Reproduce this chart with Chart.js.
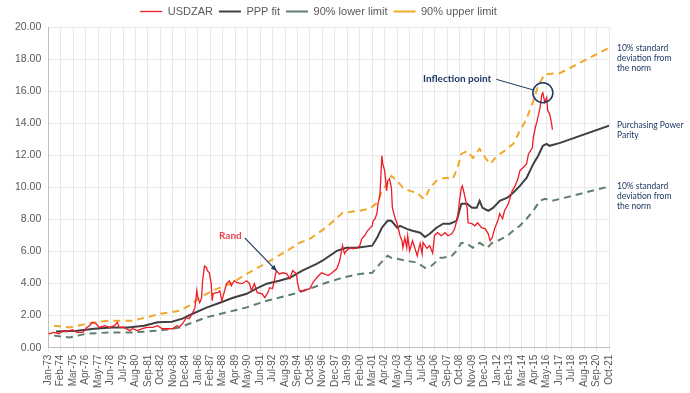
<!DOCTYPE html>
<html>
<head>
<meta charset="utf-8">
<script src="https://cdn.jsdelivr.net/npm/chart.js@4.4.0/dist/chart.umd.min.js"></script>
<style>
  body { margin: 0; background: #fff; }
</style>
</head>
<body>
<canvas id="myChart" width="690" height="393"></canvas>
<script>
// month index 0 = Jan-73, one step per month
const tickLabels = ["Jan-73","Feb-74","Mar-75","Apr-76","May-77","Jun-78","Jul-79","Aug-80","Sep-81","Oct-82",
  "Nov-83","Dec-84","Jan-86","Feb-87","Mar-88","Apr-89","May-90","Jun-91","Jul-92","Aug-93",
  "Sep-94","Oct-95","Nov-96","Dec-97","Jan-99","Feb-00","Mar-01","Apr-02","May-03","Jun-04",
  "Jul-05","Aug-06","Sep-07","Oct-08","Nov-09","Dec-10","Jan-12","Feb-13","Mar-14","Apr-15",
  "May-16","Jun-17","Jul-18","Aug-19","Sep-20","Oct-21"];

const zarMonth = [0,1,6,11,15,20,25,30,36,40,43,46,50,53,59,64,69,72,74,79,85,88,93,98,103,109,114,119,124,130,
  134,137,140,144,147,150,153,155,156,158,160,161,163,165,166,168,170,171,172,175,177,179,181,182,186,189,191,194,197,202,
  207,210,212,215,218,223,226,229,231,234,238,241,245,249,252,255,259,260,262,265,273,276,280,285,288,292,296,301,304,307,
  309,311,315,318,322,325,327,330,333,338,339,341,343,344,346,348,349,351,353,354,356,358,359,362,364,365,367,369,370,372,
  374,375,377,380,385,386,388,390,391,395,398,401,403,406,410,414,417,421,424,426,427,429,431,432,434,437,438,442,445,448,
  452,456,459,461,463,466,469,471,474,476,480,484,487,490,492,495,499,501,505,506,508,510,513,515,516,518,520,521,523,525,526];
const zarRate = [0.90,0.87,0.95,0.87,1.06,1.00,1.12,0.95,0.95,1.26,1.37,1.58,1.49,1.26,1.37,1.26,1.37,1.58,1.26,1.26,1.06,1.18,1.06,1.18,1.26,1.26,1.37,1.18,1.18,1.18,
  1.37,1.30,1.49,1.87,1.81,2.10,2.49,3.55,3.12,2.80,3.12,4.17,5.10,5.00,4.80,4.67,3.99,2.93,3.36,3.43,3.43,3.55,2.93,3.12,3.99,4.17,3.86,4.17,4.05,3.99,
  4.17,3.99,3.55,3.99,3.43,3.36,3.12,3.43,3.74,3.68,4.80,4.60,4.67,4.60,4.30,4.80,4.60,4.05,3.55,3.55,3.68,4.05,4.36,4.67,4.60,4.50,4.67,4.92,5.42,6.36,
  5.86,6.04,6.23,6.17,6.23,6.36,6.79,6.98,7.29,7.60,7.91,8.04,8.41,8.97,9.47,11.96,11.46,11.03,9.78,10.40,10.53,9.97,8.72,8.04,7.73,7.48,6.98,6.67,6.23,6.85,
  6.23,6.98,6.04,6.67,5.73,6.04,6.50,5.86,6.56,6.20,6.36,5.90,7.00,7.17,6.98,7.17,6.98,7.10,7.41,7.91,8.10,9.16,9.97,10.09,9.60,8.72,7.79,7.73,7.60,7.79,
  7.48,7.41,7.10,6.67,6.85,7.48,7.91,8.35,8.04,8.54,8.97,9.78,10.09,10.53,11.03,11.21,11.46,12.08,12.46,13.08,13.70,14.14,14.95,15.80,15.90,15.30,15.60,14.80,14.60,14.00,13.60];

const pppMonth = [8,30,48,66,83,100,114,129,140,150,165,179,192,207,217,228,241,252,265,280,286,301,311,322,338,343,348,354,358,364,
  367,374,380,388,393,398,405,412,419,426,431,437,442,447,450,453,459,464,471,479,485,492,499,506,511,516,520,523,534,585];
const pppFit = [1.00,1.06,1.18,1.26,1.26,1.37,1.58,1.62,1.81,2.10,2.50,2.80,3.10,3.36,3.68,3.99,4.17,4.36,4.80,5.23,5.42,6.04,6.23,6.23,6.36,6.85,7.48,7.91,7.91,7.48,
  7.60,7.41,7.29,7.17,6.90,7.10,7.48,7.73,7.73,7.91,8.97,8.97,8.72,8.72,9.16,8.72,8.54,8.72,9.16,9.35,9.66,10.09,10.59,11.46,11.96,12.59,12.71,12.59,12.77,13.85];

const lowMonth = [6,22,40,64,88,116,137,147,165,186,207,228,249,262,273,290,307,325,338,346,354,358,364,374,385,393,400,409,412,421,
  426,431,437,443,450,458,463,469,479,485,492,499,506,513,518,526,534,585];
const lowLimit = [0.75,0.64,0.87,0.95,0.95,1.06,1.26,1.49,1.89,2.20,2.51,2.93,3.24,3.45,3.68,4.05,4.36,4.60,4.67,5.23,5.73,5.60,5.54,5.42,5.30,4.98,5.11,5.61,5.61,5.73,
  6.04,6.54,6.48,6.23,6.54,6.23,6.54,6.67,6.98,7.29,7.60,8.04,8.54,9.16,9.28,9.16,9.28,10.05];

const upMonth = [6,22,40,61,88,116,137,147,158,171,192,207,228,249,262,273,290,307,325,335,343,348,354,358,364,370,377,385,390,393,
  398,405,409,416,422,427,431,437,443,450,456,461,468,476,485,492,499,506,511,515,518,523,534,585];
const upLimit = [1.37,1.26,1.49,1.68,1.68,2.10,2.30,2.62,3.12,3.55,4.05,4.60,5.30,6.04,6.54,6.79,7.50,8.41,8.54,8.66,9.03,9.78,10.22,10.72,10.40,9.97,9.78,9.66,9.35,9.28,
  9.97,10.40,10.53,10.59,10.53,11.21,12.08,12.27,11.84,12.40,11.84,11.46,11.96,12.27,12.71,13.52,14.27,15.39,16.32,16.76,17.07,17.07,17.13,18.70];

const navy = '#1f3864';
const pts = (xs, ys) => xs.map((m, i) => ({ x: m, y: ys[i] }));

const sideNotes = [
  { at: 18.70, lines: ['10% standard', 'deviation from', 'the norm'] },
  { at: 13.85, lines: ['Purchasing Power', 'Parity'] },
  { at: 10.05, lines: ['10% standard', 'deviation from', 'the norm'] }
];

// legend in the original sits a bit right of the canvas centre
const legendShift = {
  id: 'legendShift',
  afterLayout(chart) {
    chart.legend.left += 10;
    chart.legend.right += 10;
  }
};

const notes = {
  id: 'notes',
  afterDatasetsDraw(chart) {
    const { ctx, chartArea, scales: { x, y } } = chart;
    ctx.save();
    ctx.fillStyle = navy;
    ctx.textBaseline = 'middle';
    ctx.textAlign = 'left';
    ctx.font = '8.5px Lato';
    sideNotes.forEach(n => {
      n.lines.forEach((t, i) => ctx.fillText(t, chartArea.right + 8, y.getPixelForValue(n.at) + i * 10));
    });

    // inflection point
    const cx = x.getPixelForValue(516), cy = y.getPixelForValue(15.9), r = 10;
    ctx.strokeStyle = navy;
    ctx.lineWidth = 1.5;
    ctx.beginPath();
    ctx.arc(cx, cy, r, 0, Math.PI * 2);
    ctx.stroke();
    ctx.font = 'bold 10px Lato';
    const tx = x.getPixelForValue(391), ty = y.getPixelForValue(16.8);
    ctx.fillText('Inflection point', tx, ty);
    const sx = tx + ctx.measureText('Inflection point').width + 5, sy = ty + 1;
    const ang = Math.atan2(cy - sy, cx - sx);
    ctx.lineWidth = 1;
    ctx.beginPath();
    ctx.moveTo(sx, sy);
    ctx.lineTo(cx - Math.cos(ang) * r, cy - Math.sin(ang) * r);
    ctx.stroke();

    // Rand arrow
    ctx.fillStyle = '#e8474f';
    ctx.textAlign = 'center';
    ctx.fillText('Rand', x.getPixelForValue(190), y.getPixelForValue(6.98));
    const ax = x.getPixelForValue(205), ay = y.getPixelForValue(6.85);
    const bx = x.getPixelForValue(238), by = y.getPixelForValue(4.8);
    ctx.strokeStyle = navy;
    ctx.lineWidth = 1.2;
    ctx.beginPath();
    ctx.moveTo(ax, ay);
    ctx.lineTo(bx, by);
    ctx.stroke();
    const a = Math.atan2(by - ay, bx - ax);
    ctx.fillStyle = navy;
    ctx.beginPath();
    ctx.moveTo(bx, by);
    ctx.lineTo(bx - 6 * Math.cos(a - 0.45), by - 6 * Math.sin(a - 0.45));
    ctx.lineTo(bx - 6 * Math.cos(a + 0.45), by - 6 * Math.sin(a + 0.45));
    ctx.closePath();
    ctx.fill();
    ctx.restore();
  }
};

new Chart('myChart', {
  type: 'line',
  data: {
    datasets: [
      { label: 'USDZAR', data: pts(zarMonth, zarRate), borderColor: '#ee1c25', borderWidth: 1.3, pointStyle: 'line' },
      { label: 'PPP fit', data: pts(pppMonth, pppFit), borderColor: '#404040', borderWidth: 2, pointStyle: 'line' },
      { label: '90% lower limit', data: pts(lowMonth, lowLimit), borderColor: '#5e7f6e', borderWidth: 2, borderDash: [7, 5], pointStyle: 'line' },
      { label: '90% upper limit', data: pts(upMonth, upLimit), borderColor: '#f0a92c', borderWidth: 2, borderDash: [7, 5], pointStyle: 'line' }
    ]
  },
  options: {
    responsive: false,
    animation: false,
    elements: { point: { radius: 0 }, line: { tension: 0 } },
    layout: { padding: { left: 8, right: 81, top: 0, bottom: 2 } },
    plugins: {
      legend: {
        labels: {
          usePointStyle: true, pointStyleWidth: 22, boxHeight: 8,
          color: '#595959', padding: 6,
          font: { size: 11, family: '"Liberation Sans", Arial' }
        }
      },
      tooltip: { enabled: false }
    },
    scales: {
      x: {
        type: 'linear', min: 0, max: 585,
        ticks: {
          stepSize: 13, autoSkip: false, maxRotation: 90, minRotation: 90,
          color: '#595959', font: { size: 10, family: '"Liberation Sans", Arial' },
          callback: v => tickLabels[Math.round(v / 13)]
        },
        grid: { color: '#e8e8e8', tickLength: 4 },
        border: { color: '#bfbfbf' }
      },
      y: {
        min: 0, max: 20,
        ticks: {
          stepSize: 2, color: '#595959', padding: 7,
          font: { size: 10.5, family: '"Liberation Sans", Arial' },
          callback: v => v.toFixed(2)
        },
        grid: { color: '#e8e8e8', drawTicks: false },
        border: { color: '#bfbfbf' }
      }
    }
  },
  plugins: [legendShift, notes]
});
</script>
</body>
</html>
